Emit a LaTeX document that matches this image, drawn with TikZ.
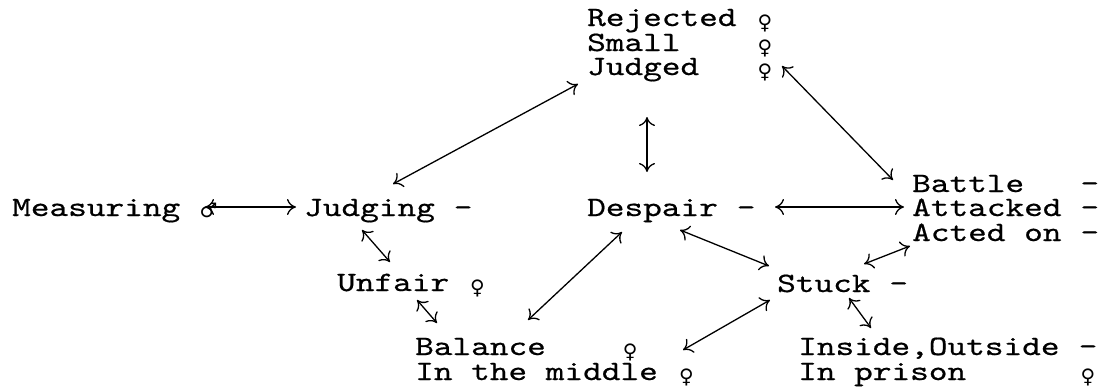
\documentclass[tikz,border=0pt]{standalone}
\usepackage{fontspec}
\usetikzlibrary{arrows.meta}
% typewriter face, widened to a Courier-like pitch
\newfontfamily\tw{lmmono10-regular.otf}[FakeStretch=1.27,FakeBold=0.6]
\newfontfamily\symf{DejaVu Sans}
\newlength\cw \setlength\cw{18.7pt}
\newcommand\col[2]{\makebox[#1\cw][l]{#2}}
\newcommand\fem{\makebox[\cw]{\raisebox{-3pt}{\fontsize{20}{20}\symf ♀}}}
\newcommand\mal{\makebox[\cw]{\raisebox{-1pt}{\fontsize{20}{20}\symf ♂}}}
\tikzset{
  lbl/.style={anchor=base west, inner sep=0pt, font=\tw\fontsize{28}{28}\selectfont},
  link/.style={<->, >={To[length=9pt,width=16pt]}, line width=1.3pt}
}
\begin{document}
\begin{tikzpicture}[x=1pt,y=-1pt]
\fill[white] (0,0) rectangle (1101,391);
\useasboundingbox (0,0) rectangle (1101,391);

% top block
\node[lbl] (rej)    at (587,26) {\col{9}{Rejected}\fem};
\node[lbl] (small)  at (587,51) {\col{9}{Small}\fem};
\node[lbl] (judged) at (587,75) {\col{9}{Judged}\fem};

% middle row
\node[lbl] (meas)    at (12,216)  {\col{10}{Measuring}\mal};
\node[lbl] (judging) at (304,216) {\col{8}{Judging}-};
\node[lbl] (despair) at (587,216) {\col{8}{Despair}-};

% right block
\node[lbl] (battle)   at (912,192) {\col{9}{Battle}-};
\node[lbl] (attacked) at (912,216) {\col{9}{Attacked}-};
\node[lbl] (acted)    at (912,241) {\col{9}{Acted on}-};

% lower rows
\node[lbl] (unfair)  at (337,291) {\col{7}{Unfair}\fem};
\node[lbl] (stuck)   at (777,292) {\col{6}{Stuck}-};
\node[lbl] (balance) at (415,355) {\col{11}{Balance}\fem};
\node[lbl] (middle)  at (415,380) {\col{14}{In the middle}\fem};
\node[lbl] (inside)  at (798,355) {\col{15}{Inside,Outside}-};
\node[lbl] (prison)  at (798,380) {\col{15}{In prison}\fem};

% connectors
\draw[link] ([shift={(193,-9)}]meas.base west) -- ([shift={(-8,-9)}]judging.base west);
\draw[link] ([shift={(89,-32)}]judging.base west) -- ([shift={(-9,9)}]judged.base west);
\draw[link] ([shift={(60,42)}]judged.base west) -- ([shift={(60,-44)}]despair.base west);
\draw[link] ([shift={(195,15)}]small.base west) -- ([shift={(-19,-12)}]battle.base west);
\draw[link] ([shift={(188,-9)}]despair.base west) -- ([shift={(-8,-9)}]attacked.base west);
\draw[link] ([shift={(93,14)}]despair.base west) -- ([shift={(-8,-26)}]stuck.base west);
\draw[link] ([shift={(-2,5)}]acted.base west) -- ([shift={(87,-28)}]stuck.base west);
\draw[link] ([shift={(58,14)}]judging.base west) -- ([shift={(53,-29)}]unfair.base west);
\draw[link] ([shift={(80,9)}]unfair.base west) -- ([shift={(22,-32)}]balance.base west);
\draw[link] ([shift={(113,-35)}]balance.base west) -- ([shift={(35,16)}]despair.base west);
\draw[link] ([shift={(268,-5)}]balance.base west) -- ([shift={(-7,8)}]stuck.base west);
\draw[link] ([shift={(72,6)}]stuck.base west) -- ([shift={(73,-27)}]inside.base west);
\end{tikzpicture}
\end{document}
